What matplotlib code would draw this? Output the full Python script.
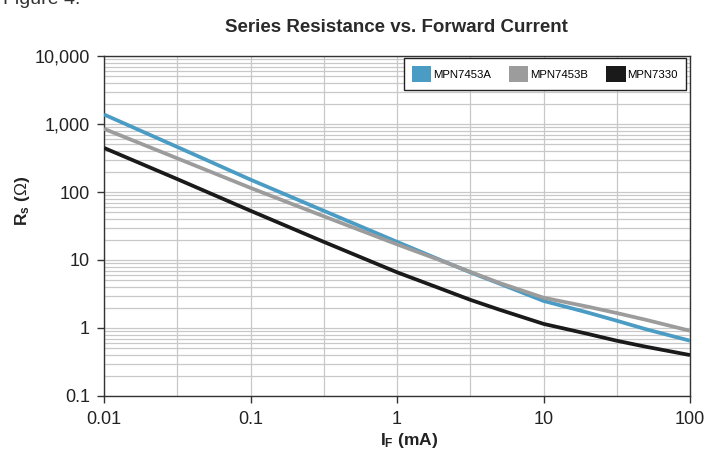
import matplotlib
matplotlib.use("Agg")
import matplotlib.pyplot as plt
from matplotlib.patches import Patch

# ---- data ----
current_ma = [0.01, 0.0316, 0.1, 0.316, 1, 2, 3.16, 5, 10, 20, 31.6, 50, 100]
rs_mpn7453a = [1380, 460, 152, 53, 18.5, 9.9, 6.6, 4.5, 2.5, 1.69, 1.28, 0.96, 0.65]
rs_mpn7453b = [850, 313, 115, 44, 17, 9.8, 6.7, 4.6, 2.79, 2.06, 1.66, 1.32, 0.91]
rs_mpn7330 = [445, 155, 53, 18.5, 6.6, 3.77, 2.6, 1.86, 1.15, 0.82, 0.65, 0.53, 0.40]

series_names = ["MPN7453A", "MPN7453B", "MPN7330"]
series_colors = ["#4a9cc4", "#9c9c9c", "#1a1a1a"]

x_major = [0.01, 0.1, 1, 10, 100]
x_major_labels = ["0.01", "0.1", "1", "10", "100"]
x_grid_half = [0.0316, 0.316, 3.16, 31.6]
y_major = [0.1, 1, 10, 100, 1000, 10000]
y_major_labels = ["0.1", "1", "10", "100", "1,000", "10,000"]

title = "Series Resistance vs. Forward Current"

regular = ["Liberation Sans", "DejaVu Sans"]
plt.rcParams["font.family"] = regular
plt.rcParams["mathtext.fontset"] = "custom"
plt.rcParams["mathtext.rm"] = "Liberation Sans"
plt.rcParams["mathtext.bf"] = "Liberation Sans:bold"

W, H = 706, 453
fig = plt.figure(figsize=(W / 100, H / 100), dpi=100)
ax = fig.add_axes([104 / W, (H - 396) / H, 586 / W, 340 / H])

ax.set_xscale("log")
ax.set_yscale("log")
ax.set_xlim(0.01, 100)
ax.set_ylim(0.1, 10000)

ax.set_xticks(x_major)
ax.set_xticklabels(x_major_labels)
ax.set_xticks(x_grid_half, minor=True)
ax.set_xticklabels([], minor=True)

ax.set_yticks(y_major)
ax.set_yticklabels(y_major_labels)
y_minor = [m * d for d in y_major[:-1] for m in range(2, 10)]
ax.set_yticks(y_minor, minor=True)
ax.set_yticklabels([], minor=True)

ax.tick_params(which="major", direction="out", length=5, width=1, color="#333333",
               labelsize=13, labelcolor="#222222", pad=5)
ax.tick_params(which="minor", length=0)
ax.tick_params(axis="x", which="major", pad=6)

ax.grid(True, which="both", color="#c8c8c8", linewidth=0.9)
ax.set_axisbelow(True)
for s in ax.spines.values():
    s.set_color("#333333")
    s.set_linewidth(1)

# draw series
order = [1, 2, 0]
all_rs = [rs_mpn7453a, rs_mpn7453b, rs_mpn7330]
for i in order:
    ax.plot(current_ma, all_rs[i], color=series_colors[i], linewidth=2.7,
            solid_capstyle="butt", zorder=3 + i)

handles = [Patch(facecolor=c, edgecolor="none") for c in series_colors]
leg = ax.legend(handles, series_names, loc="upper right",
                bbox_to_anchor=((686 - 104) / 586, (396 - 58) / 340),
                borderaxespad=0, ncol=3, fancybox=False, framealpha=1,
                edgecolor="#222222", prop={"family": regular, "size": 8.2},
                handlelength=1.7, handleheight=1.7, handletextpad=0.15,
                columnspacing=1.6, borderpad=0.72)
leg.get_frame().set_linewidth(1)

fig.text(396 / W, 1 - 27 / H, title, ha="center", va="center",
         fontsize=13.5, fontweight="bold", family=regular, color="#2a2a2a")
fig.text(3 / W, 1 - 4 / H, "Figure 4.", ha="left", va="baseline",
         fontsize=14, family=regular, color="#333333")

fig.text(23 / W, 1 - 201 / H, r"$\mathbf{R_s}$ ($\Omega$)", rotation=90,
         ha="center", va="center", fontsize=12.5, fontweight="bold", color="#222222")
fig.text(409 / W, 1 - 440 / H, r"$\mathbf{I_F}$ (mA)",
         ha="center", va="center", fontsize=12.5, fontweight="bold", color="#222222")

fig.savefig("out.png", dpi=100)
